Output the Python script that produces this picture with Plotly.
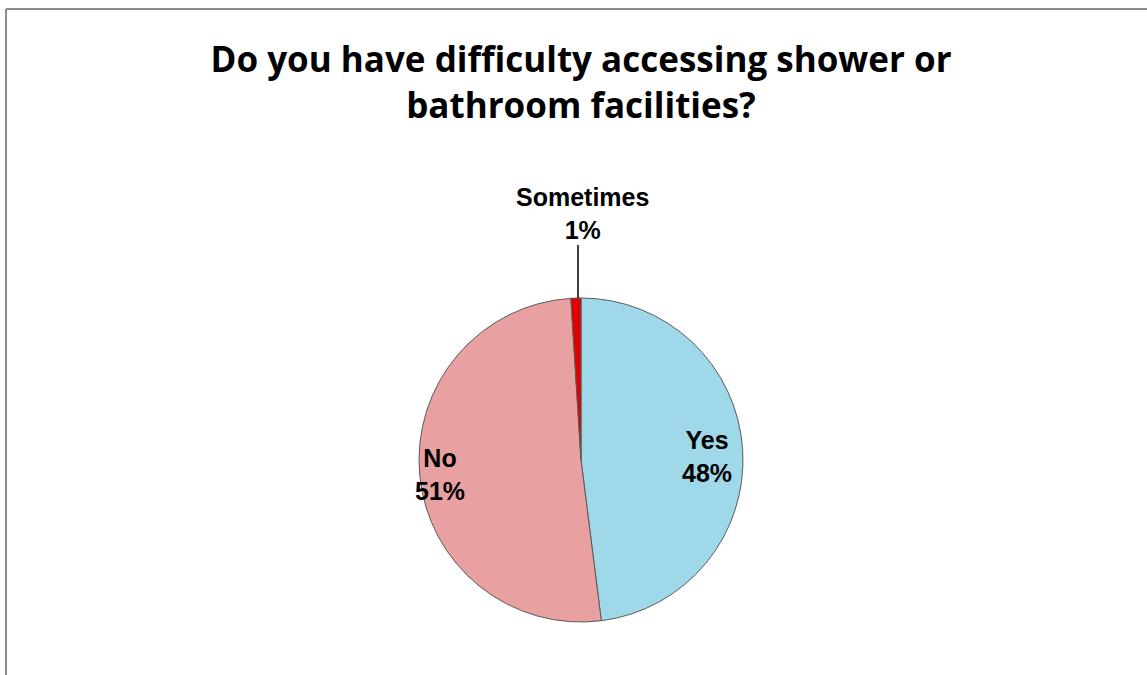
import plotly.graph_objects as go

# Survey answers
labels = ["Yes", "No", "Sometimes"]
values = [48, 51, 1]
colors = ["#9fd8e8", "#e8a0a0", "#e00000"]

W, H = 1147, 675


def px(x):
    return x / W


def py(y):
    return 1 - y / H


fig = go.Figure(
    go.Pie(
        labels=labels,
        values=values,
        sort=False,
        direction="clockwise",
        rotation=0,
        textinfo="none",
        hoverinfo="label+percent",
        marker=dict(colors=colors, line=dict(color="#5a5a5a", width=1)),
        domain=dict(x=[px(418), px(744)], y=[py(622), py(298)]),
        showlegend=False,
    )
)

# data labels, text built from the values
label_pos = {"Yes": (707, 456), "No": (440, 474), "Sometimes": (582, 213)}
for lab, val in zip(labels, values):
    x, y = label_pos[lab]
    fig.add_annotation(
        x=px(x), y=py(y), xref="paper", yref="paper",
        text=f"<b>{lab}<br>{val}%</b>", showarrow=False,
        font=dict(family="Liberation Sans, Arial, sans-serif", size=25, color="#000000"),
        xanchor="center", yanchor="middle", align="center",
    )

# leader line for the small slice
fig.add_shape(type="line", xref="paper", yref="paper",
              x0=px(578), x1=px(578), y0=py(245), y1=py(298),
              line=dict(color="#000000", width=1.5))

# chart-area frame (top and left edges)
fig.add_shape(type="line", xref="paper", yref="paper",
              x0=px(6), x1=1, y0=py(9), y1=py(9),
              line=dict(color="#8c8c8c", width=2))
fig.add_shape(type="line", xref="paper", yref="paper",
              x0=px(6), x1=px(6), y0=py(9), y1=0,
              line=dict(color="#8c8c8c", width=2))

fig.update_layout(
    width=W, height=H,
    margin=dict(l=0, r=0, t=0, b=0),
    paper_bgcolor="#ffffff",
    plot_bgcolor="#ffffff",
    title=dict(
        text="<b>Do you have difficulty accessing shower or<br>bathroom facilities?</b>",
        x=px(581), xanchor="center",
        y=py(72), yref="container", yanchor="middle",
        font=dict(family="Open Sans, sans-serif", size=35, color="#000000"),
    ),
)

fig.write_html("out.html")
